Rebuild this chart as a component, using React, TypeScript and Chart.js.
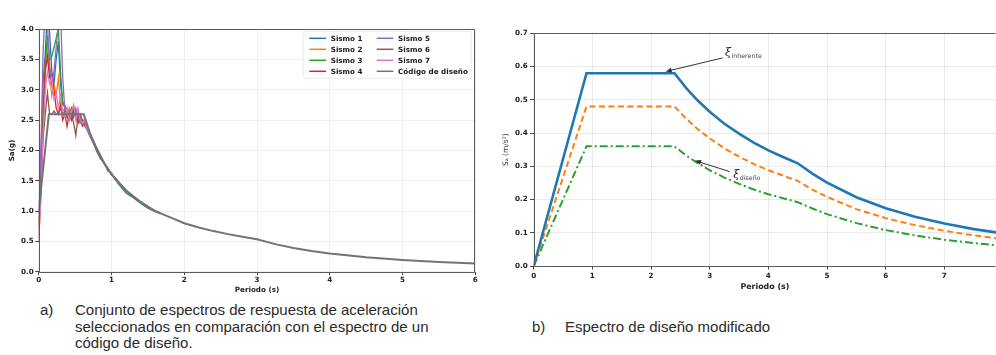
import React, { useEffect, useRef } from "react";
import { Chart, registerables } from "chart.js";

Chart.register(...registerables);

// ---------- (a) response spectra of the seven records + design code ----------
const recordPeriods = [
  0, 0.03, 0.06, 0.09, 0.12, 0.15, 0.18, 0.21, 0.24, 0.27,
  0.3, 0.33, 0.36, 0.39, 0.42, 0.45, 0.48, 0.51, 0.54, 0.57,
  0.6,
  0.63, 0.66,
  0.7, 0.75, 0.8, 0.85, 0.9, 0.95, 1.0, 1.05, 1.1,
  1.2, 1.3, 1.4, 1.5, 1.6, 1.67,
];

const sismo1 = [
  0.95, 1.9, 3.1, 3.6, 4.3, 3.95, 3.3, 3.1, 3.5, 3.8,
  3.1, 2.8, 2.7, 2.65, 2.6, 2.7, 2.55, 2.65, 2.6, 2.5,
  2.45,
  2.42, 2.35,
  2.25, 2.12, 1.98, 1.86, 1.8, 1.66, 1.63, 1.52, 1.44,
  1.3, 1.22, 1.13, 1.05, 0.99, 0.96,
];
const sismo2 = [
  0.7, 1.6, 2.8, 3.4, 3.7, 3.3, 2.9, 3.1, 2.9, 3.2,
  2.8, 2.65, 2.7, 2.55, 2.7, 2.6, 2.75, 2.55, 2.65, 2.5,
  2.5,
  2.48, 2.4,
  2.28, 2.17, 2.04, 1.92, 1.78, 1.71, 1.6, 1.55, 1.46,
  1.35, 1.25, 1.16, 1.08, 1.0, 0.97,
];
const sismo3 = [
  0.8, 1.5, 2.6, 3.4, 3.9, 3.5, 3.55, 3.7, 3.85, 4.02,
  3.3, 2.75, 2.75, 2.6, 2.65, 2.55, 2.7, 2.6, 2.55, 2.45,
  2.5,
  2.5, 2.42,
  2.3, 2.14, 2.03, 1.9, 1.8, 1.69, 1.62, 1.53, 1.47,
  1.33, 1.24, 1.14, 1.06, 1.0, 0.97,
];
const sismo4 = [
  0.5, 1.3, 2.4, 3.3, 3.55, 3.2, 3.25, 3.0, 2.7, 2.6,
  2.75, 2.5, 2.6, 2.4, 2.6, 2.5, 2.65, 2.55, 2.45, 2.55,
  2.4,
  2.45, 2.38,
  2.25, 2.15, 2.0, 1.89, 1.79, 1.7, 1.6, 1.54, 1.46,
  1.34, 1.23, 1.15, 1.07, 1.0, 0.97,
];
const sismo5 = [
  0.6, 2.0, 3.6, 4.4, 4.1, 3.4, 3.1, 3.3, 3.7, 4.1,
  4.3, 3.2, 2.65, 2.7, 2.6, 2.55, 2.6, 2.7, 2.5, 2.55,
  2.45,
  2.4, 2.36,
  2.28, 2.13, 2.01, 1.91, 1.78, 1.7, 1.61, 1.53, 1.46,
  1.34, 1.24, 1.15, 1.07, 1.01, 0.97,
];
const sismo6 = [
  0.75, 1.4, 2.2, 2.6, 2.95, 2.6, 2.6, 2.65, 2.6, 2.6,
  2.7, 2.6, 2.65, 2.55, 2.5, 2.6, 2.45, 2.25, 2.55, 2.6,
  2.5,
  2.45, 2.4,
  2.29, 2.16, 2.02, 1.9, 1.79, 1.7, 1.61, 1.54, 1.47,
  1.34, 1.24, 1.15, 1.07, 1.0, 0.97,
];
const sismo7 = [
  0.55, 1.2, 2.3, 3.0, 3.3, 3.1, 3.2, 2.85, 2.95, 2.7,
  2.9, 2.6, 2.55, 2.7, 2.5, 2.65, 2.75, 2.5, 2.7, 2.5,
  2.45,
  2.5, 2.37,
  2.27, 2.14, 2.03, 1.9, 1.8, 1.69, 1.62, 1.53, 1.46,
  1.34, 1.24, 1.15, 1.07, 1.0, 0.97,
];

const codePeriods = [
  0, 0.14, 0.62, 0.7, 0.8, 0.9, 1.0, 1.2, 1.4, 1.6, 1.8, 2.0, 2.2,
  2.4, 2.6, 2.8, 3.0, 3.25, 3.5, 3.75, 4.0, 4.5, 5.0, 5.5, 6.0,
];
const codeValues = [
  1.0, 2.6, 2.6, 2.3, 2.02, 1.79, 1.61, 1.34, 1.15, 1.0, 0.9, 0.8, 0.73,
  0.67, 0.62, 0.575, 0.535, 0.455, 0.39, 0.34, 0.3, 0.237, 0.192, 0.159, 0.134,
];

const recordNames = ["Sismo 1", "Sismo 2", "Sismo 3", "Sismo 4", "Sismo 5", "Sismo 6", "Sismo 7"];
const recordSeries = [sismo1, sismo2, sismo3, sismo4, sismo5, sismo6, sismo7];
const recordColors = ["#1f77b4", "#ff7f0e", "#2ca02c", "#d62728", "#9467bd", "#8c564b", "#e377c2"];
const codeName = "Código de diseño";

// ---------- (b) modified design spectrum ----------
const modPeriods = [0, 0.9, 2.4, 2.6, 2.8, 3.0, 3.25, 3.5, 3.75, 4.0, 4.25, 4.5, 4.75, 5.0, 5.5, 6.0, 6.5, 7.0, 7.5, 8.0];
const saInherente = [0, 0.58, 0.58, 0.535, 0.497, 0.464, 0.428, 0.398, 0.371, 0.348, 0.328, 0.309, 0.278, 0.251, 0.207, 0.174, 0.148, 0.128, 0.111, 0.098];
const saIntermedio = [0, 0.48, 0.48, 0.443, 0.411, 0.384, 0.354, 0.329, 0.307, 0.288, 0.272, 0.256, 0.23, 0.208, 0.171, 0.144, 0.123, 0.106, 0.092, 0.081];
const saDiseno = [0, 0.36, 0.36, 0.332, 0.309, 0.288, 0.266, 0.247, 0.23, 0.216, 0.204, 0.192, 0.173, 0.156, 0.129, 0.108, 0.092, 0.079, 0.069, 0.061];

const xyPoints = (xs: number[], ys: number[]) => xs.map((x, i) => ({ x, y: ys[i] }));

const tickFont = { family: "DejaVu Sans", weight: "bold" as const, size: 7.2 };
const frameColor = "#5a5a5a";

// Draws the axes frame around the plotting area
const makeFramePlugin = (sides: string[]) => ({
  id: "frame",
  afterDatasetsDraw(chart: any) {
    const { ctx, chartArea } = chart;
    const l = Math.round(chartArea.left) + 0.5;
    const r = Math.round(chartArea.right) - 0.5;
    const t = Math.round(chartArea.top) + 0.5;
    const b = Math.round(chartArea.bottom) + 0.5;
    ctx.save();
    ctx.strokeStyle = frameColor;
    ctx.lineWidth = 1;
    ctx.beginPath();
    if (sides.includes("top")) { ctx.moveTo(l, t); ctx.lineTo(r, t); }
    if (sides.includes("right")) { ctx.moveTo(r, t); ctx.lineTo(r, b); }
    if (sides.includes("bottom")) { ctx.moveTo(l, b); ctx.lineTo(r, b); }
    if (sides.includes("left")) { ctx.moveTo(l, t); ctx.lineTo(l, b); }
    ctx.stroke();
    ctx.restore();
  },
});

// Two-column legend, filled column by column
const columnLegendPlugin = {
  id: "columnLegend",
  afterDraw(chart: any) {
    const { ctx, chartArea } = chart;
    const { right, top } = chartArea;
    ctx.save();
    const bx = right - 172, by = top + 2, bw = 168, bh = 47, rad = 2;
    ctx.beginPath();
    ctx.moveTo(bx + rad, by);
    ctx.arcTo(bx + bw, by, bx + bw, by + bh, rad);
    ctx.arcTo(bx + bw, by + bh, bx, by + bh, rad);
    ctx.arcTo(bx, by + bh, bx, by, rad);
    ctx.arcTo(bx, by, bx + bw, by, rad);
    ctx.closePath();
    ctx.fillStyle = "rgba(255,255,255,0.9)";
    ctx.fill();
    ctx.strokeStyle = "#ececec";
    ctx.lineWidth = 1;
    ctx.stroke();

    ctx.font = "bold 7.2px 'DejaVu Sans'";
    ctx.textBaseline = "middle";
    ctx.textAlign = "left";
    chart.data.datasets.forEach((ds: any, i: number) => {
      const col = Math.floor(i / 4);
      const row = i % 4;
      const x = right - 166 + col * 67.4;
      const y = top + 9 + row * 11;
      ctx.strokeStyle = ds.borderColor;
      ctx.lineWidth = 1.5;
      ctx.beginPath();
      ctx.moveTo(x, y);
      ctx.lineTo(x + 16.7, y);
      ctx.stroke();
      ctx.fillStyle = "#1a1a1a";
      ctx.fillText(ds.label, x + 21.4, y + 0.5);
    });
    ctx.restore();
  },
};

// Arrow callouts naming the inherent and design curves
const callouts = [
  { sub: "inherente", tip: [2.25, 0.585], tail: [3.22, 0.626], text: [3.26, 0.642] },
  { sub: "diseño", tip: [2.75, 0.317], tail: [3.34, 0.284], text: [3.4, 0.274] },
];

const calloutPlugin = {
  id: "callouts",
  afterDatasetsDraw(chart: any) {
    const { ctx, scales } = chart;
    const px = (v: number) => scales.x.getPixelForValue(v);
    const py = (v: number) => scales.y.getPixelForValue(v);
    ctx.save();
    callouts.forEach((c) => {
      const x1 = px(c.tail[0]), y1 = py(c.tail[1]);
      const x2 = px(c.tip[0]), y2 = py(c.tip[1]);
      const ang = Math.atan2(y2 - y1, x2 - x1);
      const head = 6;
      ctx.strokeStyle = "#333";
      ctx.fillStyle = "#333";
      ctx.lineWidth = 1;
      ctx.beginPath();
      ctx.moveTo(x1, y1);
      ctx.lineTo(x2 - Math.cos(ang) * head * 0.8, y2 - Math.sin(ang) * head * 0.8);
      ctx.stroke();
      ctx.beginPath();
      ctx.moveTo(x2, y2);
      ctx.lineTo(x2 - head * Math.cos(ang) + 2.5 * Math.sin(ang), y2 - head * Math.sin(ang) - 2.5 * Math.cos(ang));
      ctx.lineTo(x2 - head * Math.cos(ang) - 2.5 * Math.sin(ang), y2 - head * Math.sin(ang) + 2.5 * Math.cos(ang));
      ctx.closePath();
      ctx.fill();

      const tx = px(c.text[0]), ty = py(c.text[1]);
      ctx.textBaseline = "alphabetic";
      ctx.textAlign = "left";
      ctx.fillStyle = "#222";
      ctx.font = "italic 11px 'DejaVu Serif'";
      ctx.fillText("ξ", tx, ty + 3);
      const w = ctx.measureText("ξ").width;
      ctx.fillStyle = "#444";
      ctx.font = "6.3px 'DejaVu Sans'";
      ctx.fillText(c.sub, tx + w + 0.5, ty + 5.5);
    });
    ctx.restore();
  },
};

export default function App() {
  const leftRef = useRef<HTMLCanvasElement | null>(null);
  const rightRef = useRef<HTMLCanvasElement | null>(null);

  useEffect(() => {
    const datasets: any[] = recordSeries.map((vals, i) => ({
      label: recordNames[i],
      data: xyPoints(recordPeriods, vals),
      borderColor: recordColors[i],
      borderWidth: 1.3,
      pointRadius: 0,
      tension: 0,
      order: 10 - i,
    }));
    datasets.push({
      label: codeName,
      data: xyPoints(codePeriods, codeValues),
      borderColor: "#737373",
      borderWidth: 2,
      pointRadius: 0,
      tension: 0,
      order: 0,
    });

    const left = new Chart(leftRef.current as HTMLCanvasElement, {
      type: "line",
      data: { datasets },
      options: {
        responsive: false,
        animation: false,
        events: [],
        layout: { padding: { left: 0, right: 14.7, top: 29.3, bottom: 0 } },
        plugins: { legend: { display: false }, tooltip: { enabled: false } },
        scales: {
          x: {
            type: "linear",
            min: 0,
            max: 6,
            afterFit: (s: any) => { s.height = 28.3; },
            border: { display: false },
            grid: { color: "rgba(0,0,0,0.06)", tickColor: "#444", tickLength: 3.5 },
            ticks: { stepSize: 1, font: tickFont, color: "#222", padding: 1, maxRotation: 0, callback: (v: any) => String(v) },
            title: { display: true, text: "Periodo (s)", font: tickFont, color: "#222", padding: { top: 0, bottom: 5.8 } },
          },
          y: {
            type: "linear",
            min: 0,
            max: 4,
            afterFit: (s: any) => { s.width = 38.7; },
            border: { display: false },
            grid: { color: "rgba(0,0,0,0.06)", tickColor: "#444", tickLength: 3.5 },
            ticks: { stepSize: 0.5, font: tickFont, color: "#222", padding: 1.5, callback: (v: any) => Number(v).toFixed(1) },
            title: { display: true, text: "Sa(g)", font: tickFont, color: "#222", padding: { top: 8.3, bottom: 0 } },
          },
        },
      },
      plugins: [makeFramePlugin(["top", "right", "bottom", "left"]), columnLegendPlugin],
    } as any);

    const right = new Chart(rightRef.current as HTMLCanvasElement, {
      type: "line",
      data: {
        datasets: [
          {
            label: "ξ inherente",
            data: xyPoints(modPeriods, saInherente),
            borderColor: "#1f77b4",
            borderWidth: 2.6,
            pointRadius: 0,
            tension: 0,
          },
          {
            label: "ξ intermedio",
            data: xyPoints(modPeriods, saIntermedio),
            borderColor: "#ff7f0e",
            borderWidth: 2,
            borderDash: [6, 3.5],
            pointRadius: 0,
            tension: 0,
          },
          {
            label: "ξ diseño",
            data: xyPoints(modPeriods, saDiseno),
            borderColor: "#2ca02c",
            borderWidth: 2,
            borderDash: [8, 3, 2, 3],
            pointRadius: 0,
            tension: 0,
          },
        ],
      },
      options: {
        responsive: false,
        animation: false,
        events: [],
        layout: { padding: { left: 0, right: 0, top: 33.3, bottom: 0 } },
        plugins: { legend: { display: false }, tooltip: { enabled: false } },
        scales: {
          x: {
            type: "linear",
            min: 0,
            max: 7.88,
            afterFit: (s: any) => { s.height = 34; },
            border: { display: false },
            grid: { color: "rgba(0,0,0,0.08)", tickColor: "#444", tickLength: 3.5 },
            ticks: { stepSize: 1, includeBounds: false, font: tickFont, color: "#222", padding: 2, maxRotation: 0, callback: (v: any) => String(v) },
            title: { display: true, text: "Periodo (s)", font: { family: "DejaVu Sans", weight: "bold", size: 7.9 }, color: "#222", padding: { top: 0, bottom: 8.5 } },
          },
          y: {
            type: "linear",
            min: 0,
            max: 0.7,
            afterFit: (s: any) => { s.width = 37.7; },
            border: { display: false },
            grid: { color: "rgba(0,0,0,0.08)", tickColor: "#444", tickLength: 3.5 },
            ticks: { stepSize: 0.1, font: tickFont, color: "#222", padding: 2.5, callback: (v: any) => Number(v).toFixed(1) },
            title: { display: true, text: "Sₐ (m/s²)", font: { family: "DejaVu Sans", size: 7.5 }, color: "#333", padding: { top: 5.5, bottom: 0 } },
          },
        },
      },
      plugins: [makeFramePlugin(["top", "bottom", "left"]), calloutPlugin],
    } as any);

    return () => {
      left.destroy();
      right.destroy();
    };
  }, []);

  const captionFont: React.CSSProperties = {
    position: "absolute",
    fontFamily: "'Liberation Sans', Arial, sans-serif",
    fontSize: "15px",
    lineHeight: "16.5px",
    color: "#2b2b2b",
    whiteSpace: "nowrap",
    margin: 0,
  };

  return (
    <div style={{ position: "fixed", left: 0, top: 0, width: 996, height: 355, background: "#fff", overflow: "hidden" }}>
      <canvas ref={leftRef} width={490} height={300} style={{ position: "absolute", left: 0, top: 0, width: 490, height: 300 }} />
      <canvas ref={rightRef} width={500} height={300} style={{ position: "absolute", left: 496, top: 0, width: 500, height: 300 }} />
      <div style={{ ...captionFont, left: 40, top: 302 }}>a)</div>
      <div style={{ ...captionFont, left: 75, top: 302 }}>
        Conjunto de espectros de respuesta de aceleración
        <br />
        seleccionados en comparación con el espectro de un
        <br />
        código de diseño.
      </div>
      <div style={{ ...captionFont, left: 532, top: 318.5 }}>b)</div>
      <div style={{ ...captionFont, left: 565, top: 318.5 }}>Espectro de diseño modificado</div>
    </div>
  );
}
